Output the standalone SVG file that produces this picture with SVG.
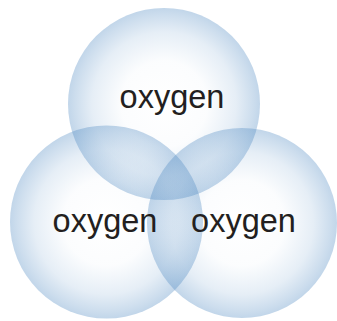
<svg xmlns="http://www.w3.org/2000/svg" width="337" height="321" viewBox="0 0 337 321">
  <style>
    .label { font-family: "Liberation Sans", Arial, sans-serif; font-size: 32.5px; fill: #231f20; text-anchor: middle; }
    .bubble { fill: url(#bubbleGrad); }
  </style>
  <defs>
    <radialGradient id="bubbleGrad" cx="0.5" cy="0.5" r="0.5">
      <stop offset="0" stop-color="#4a86c0" stop-opacity="0"/>
      <stop offset="0.45" stop-color="#4a86c0" stop-opacity="0.02"/>
      <stop offset="0.75" stop-color="#4a86c0" stop-opacity="0.14"/>
      <stop offset="0.93" stop-color="#4a86c0" stop-opacity="0.28"/>
      <stop offset="1" stop-color="#4a86c0" stop-opacity="0.34"/>
    </radialGradient>
  </defs>
  <rect width="337" height="321" fill="#ffffff"/>
  <g id="circle-top">
    <circle class="bubble" cx="164" cy="104" r="96"/>
  </g>
  <g id="circle-left">
    <circle class="bubble" cx="106.5" cy="222" r="96.5"/>
  </g>
  <g id="circle-right">
    <circle class="bubble" cx="242" cy="223" r="95"/>
  </g>
  <g id="labels">
    <text class="label" x="172" y="108">oxygen</text>
    <text class="label" x="105" y="232">oxygen</text>
    <text class="label" x="243.5" y="232">oxygen</text>
  </g>
</svg>
